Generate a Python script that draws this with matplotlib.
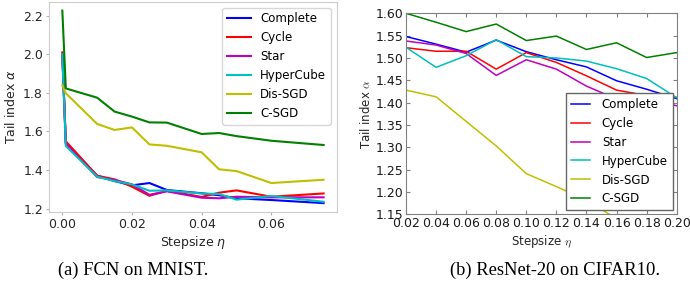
import matplotlib
matplotlib.use("Agg")
import matplotlib.pyplot as plt

# (a) FCN on MNIST
steps_a = [0.0, 0.001, 0.01, 0.015, 0.02, 0.025, 0.03, 0.04, 0.045, 0.05, 0.06, 0.075]
complete_a = [2.00, 1.538, 1.371, 1.343, 1.321, 1.333, 1.297, 1.280, 1.270, 1.254, 1.245, 1.229]
cycle_a = [2.01, 1.549, 1.371, 1.352, 1.314, 1.267, 1.293, 1.261, 1.283, 1.295, 1.262, 1.279]
star_a = [1.99, 1.535, 1.364, 1.349, 1.326, 1.272, 1.290, 1.257, 1.254, 1.262, 1.259, 1.259]
hyper_a = [2.00, 1.525, 1.366, 1.343, 1.326, 1.293, 1.295, 1.279, 1.276, 1.247, 1.266, 1.236]
dissgd_a = [1.839, 1.798, 1.639, 1.608, 1.621, 1.533, 1.526, 1.492, 1.404, 1.395, 1.333, 1.350]
csgd_a = [2.226, 1.823, 1.775, 1.703, 1.677, 1.647, 1.646, 1.587, 1.592, 1.576, 1.552, 1.530]

# (b) ResNet-20 on CIFAR10 (Dis-SGD tail is hidden behind the legend)
steps_b = [0.02, 0.04, 0.06, 0.08, 0.10, 0.12, 0.14, 0.16, 0.18, 0.20]
complete_b = [1.548, 1.531, 1.513, 1.540, 1.514, 1.496, 1.480, 1.449, 1.430, 1.409]
cycle_b = [1.523, 1.515, 1.515, 1.475, 1.512, 1.490, 1.460, 1.428, 1.416, 1.412]
star_b = [1.538, 1.529, 1.510, 1.461, 1.496, 1.475, 1.437, 1.408, 1.407, 1.393]
hyper_b = [1.524, 1.479, 1.505, 1.541, 1.503, 1.500, 1.493, 1.476, 1.454, 1.411]
dissgd_b = [1.428, 1.413, 1.358, 1.303, 1.241, 1.212, 1.182, 1.140, 1.120, 1.100]
csgd_b = [1.600, 1.580, 1.559, 1.576, 1.539, 1.549, 1.519, 1.534, 1.501, 1.512]

names = ["Complete", "Cycle", "Star", "HyperCube", "Dis-SGD", "C-SGD"]
colors = ["b", "r", "m", "c", "y", "g"]

fig = plt.figure(figsize=(6.9, 2.83), dpi=100)

# left panel: newer default style, light grey frame
ax1 = fig.add_axes([0.0714, 0.2509, 0.4165, 0.743])
series_a = [complete_a, cycle_a, star_a, hyper_a, dissgd_a, csgd_a]
for vals, name, c in zip(series_a, names, colors):
    ax1.plot(steps_a, vals, color=c, lw=1.5, label=name)
ax1.set_xlim(-0.00375, 0.07875)
ax1.set_ylim(1.183, 2.272)
ax1.set_xticks([0.0, 0.02, 0.04, 0.06])
ax1.set_yticks([1.2, 1.4, 1.6, 1.8, 2.0, 2.2])
for s in ax1.spines.values():
    s.set_color("0.8")
ax1.tick_params(length=2.5, pad=2, labelsize=9, color="0.7", labelcolor="0.15")
ax1.set_xlabel(r"Stepsize $\eta$", fontsize=9, color="0.15", labelpad=2)
ax1.set_ylabel(r"Tail index $\alpha$", fontsize=9, color="0.15", labelpad=4)
ax1.legend(loc="upper right", fontsize=8.5, edgecolor="0.8")

# right panel: classic style
ax2 = fig.add_axes([0.5884, 0.2428, 0.3923, 0.7102])
series_b = [complete_b, cycle_b, star_b, hyper_b, dissgd_b, csgd_b]
for vals, name, c in zip(series_b, names, colors):
    ax2.plot(steps_b, vals, color=c, lw=1.1, label=name)
ax2.set_xlim(0.02, 0.20)
ax2.set_ylim(1.15, 1.60)
ax2.set_xticks(steps_b)
ax2.set_yticks([1.15, 1.20, 1.25, 1.30, 1.35, 1.40, 1.45, 1.50, 1.55, 1.60])
for s in ax2.spines.values():
    s.set_color("0.5")
ax2.tick_params(direction="in", length=3, top=True, right=True, labelsize=9,
                color="0.5", labelcolor="0.1")
ax2.tick_params(axis="x", pad=2)
ax2.tick_params(axis="y", pad=2)
ax2.set_xlabel(r"Stepsize $\eta$", fontsize=8.5, color="0.15", labelpad=2,
               math_fontfamily="cm")
ax2.set_ylabel(r"Tail index $\alpha$", fontsize=8.5, color="0.15", labelpad=2,
               math_fontfamily="cm")
ax2.legend(loc="lower right", fontsize=8.5, fancybox=False, framealpha=1,
           edgecolor="0.4", handlelength=1.6, handletextpad=1.0,
           borderaxespad=0.35)

# captions under each subfigure
fig.text(133 / 690, 1 - 270 / 283, "(a) FCN on MNIST.", ha="center", va="center",
         fontsize=13.3, family="Liberation Serif")
fig.text(555 / 690, 1 - 270 / 283, "(b) ResNet-20 on CIFAR10.", ha="center",
         va="center", fontsize=13.3, family="Liberation Serif")

fig.savefig("out.png", dpi=100)
